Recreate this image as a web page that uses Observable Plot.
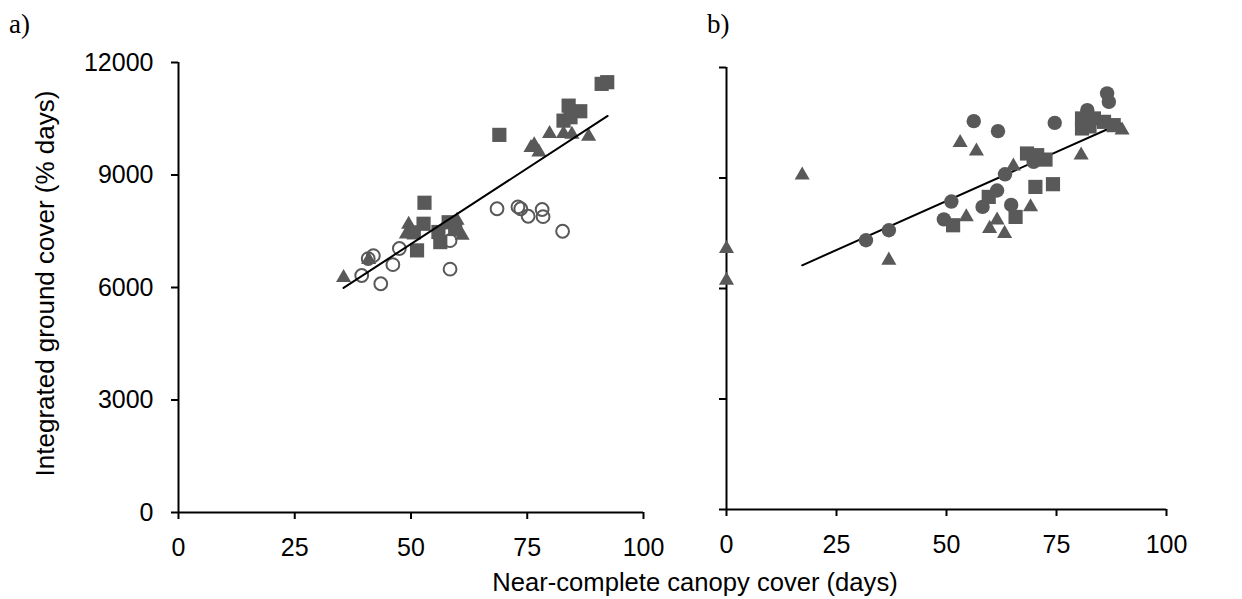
<!DOCTYPE html>
<html>
<head>
<meta charset="utf-8">
<script src="https://cdn.jsdelivr.net/npm/d3@7"></script>
<script src="https://cdn.jsdelivr.net/npm/@observablehq/plot@0.6"></script>
<style>
  html, body { margin: 0; padding: 0; background: #fff; }
  #wrap { position: relative; width: 1242px; height: 599px; overflow: hidden; font-family: 'Liberation Sans', Arial, sans-serif; }
  .panel { position: absolute; top: 0; }
  .tag { position: absolute; top: 11px; font-family: 'Liberation Serif', serif; font-size: 27px; line-height: 27px; color: #000; }
  #xtitle { position: absolute; top: 570px; left: 395px; width: 600px; text-align: center; font-size: 25.6px; line-height: 25px; color: #000; }
</style>
</head>
<body>
<div id="wrap">
  <div class="tag" style="left:9px">a)</div>
  <div class="tag" style="left:707px">b)</div>
  <div id="panelA" class="panel" style="left:0px"></div>
  <div id="panelB" class="panel" style="left:680px"></div>
  <div id="xtitle">Near-complete canopy cover (days)</div>
</div>
<script>
// ---------- tick values ----------
const xTicks = [0, 25, 50, 75, 100];
const yTicks = [0, 3000, 6000, 9000, 12000];
const yTitle = "Integrated ground cover (% days)";

// ---------- panel a ----------
const aCircleX = [39.4, 40.8, 41.9, 43.5, 46.1, 47.5, 58.4, 58.4, 68.5, 73.0, 73.6, 75.2, 78.2, 78.4, 82.6];
const aCircleY = [6320, 6770, 6850, 6100, 6610, 7040, 7250, 6490, 8100, 8150, 8100, 7900, 8080, 7890, 7500];

const aTriX = [35.5, 40.9, 49.5, 49.0, 59.9, 61.0, 75.8, 76.5, 77.5, 79.8, 82.8, 84.6, 88.2];
const aTriY = [6260, 6740, 7680, 7420, 7790, 7390, 9730, 9800, 9610, 10100, 10100, 10080, 10030];

const aSqX = [50.6, 51.3, 52.7, 52.9, 55.9, 56.3, 58.1, 59.5, 69.0, 82.8, 84.3, 83.9, 86.4, 91.0, 92.2];
const aSqY = [7470, 6990, 7700, 8260, 7480, 7210, 7740, 7560, 10070, 10450, 10540, 10850, 10700, 11430, 11475];

const aLineX = [35.5, 92.3];
const aLineY = [5990, 10575];

// ---------- panel b ----------
const bTriX = [0, 0, 17.2, 36.9, 53.1, 56.8, 54.5, 59.8, 61.5, 63.2, 65.2, 69.1, 80.6, 89.9];
const bTriY = [7080, 6220, 9076, 6766, 9960, 9728, 7943, 7628, 7853, 7491, 9321, 8215, 9620, 10299];

const bCircX = [31.7, 36.9, 49.4, 51.1, 56.2, 58.2, 61.5, 61.7, 63.3, 64.7, 69.8, 74.6, 82.0, 86.5, 86.9];
const bCircY = [7310, 7582, 7876, 8360, 10543, 8215, 8660, 10272, 9100, 8270, 9438, 10497, 10842, 11296, 11068];

const bSqX = [51.5, 59.6, 65.7, 68.3, 70.6, 72.5, 70.2, 74.2, 80.8, 80.8, 82.5, 83.5, 85.8, 88.0];
const bSqY = [7717, 8487, 7943, 9665, 9620, 9500, 8758, 8832, 10617, 10345, 10400, 10617, 10525, 10435];

const bLineX = [17.2, 89.5];
const bLineY = [6630, 10480];

// ---------- helpers ----------
const gray = "#595959";
const font = "'Liberation Sans', Arial, sans-serif";
const zip = (xs, ys) => xs.map((x, i) => ({x, y: ys[i]}));

function axes(showYLabels) {
  return [
    Plot.axisX({ticks: xTicks, tickSize: 7, tickPadding: 19, strokeWidth: 2, label: null, fontSize: 25, tickFormat: d => String(d)}),
    Plot.axisY({ticks: yTicks, tickSize: 7, tickPadding: 18, strokeWidth: 2, label: null, fontSize: 25,
      tickFormat: showYLabels ? (d => String(d)) : (() => "")}),
    Plot.ruleX([0], {strokeWidth: 2, stroke: "black"}),
    Plot.ruleY([0], {strokeWidth: 2, stroke: "black"})
  ];
}

const styleObj = {fontFamily: font, fontSize: "25px", color: "black", background: "transparent", overflow: "visible"};

const plotA = Plot.plot({
  width: 680, height: 599,
  marginLeft: 178, marginRight: 37, marginTop: 62, marginBottom: 87,
  style: styleObj,
  x: {domain: [0, 100]},
  y: {domain: [0, 12000]},
  marks: [
    ...axes(true),
    Plot.text([yTitle], {text: d => d, frameAnchor: "left", textAnchor: "middle", lineAnchor: "middle", dx: -133, dy: -4, rotate: -90, fontSize: 26, fill: "black"}),
    Plot.dot(zip(aTriX, aTriY), {x: "x", y: "y", symbol: "triangle", r: 5.6, fill: gray}),
    Plot.dot(zip(aSqX, aSqY), {x: "x", y: "y", symbol: "square", r: 8.0, fill: gray}),
    Plot.dot(zip(aCircleX, aCircleY), {x: "x", y: "y", r: 6.4, fill: "none", stroke: gray, strokeWidth: 2}),
    Plot.line(zip(aLineX, aLineY), {x: "x", y: "y", stroke: "black", strokeWidth: 2})
  ]
});
document.getElementById("panelA").appendChild(plotA);

const plotB = Plot.plot({
  width: 562, height: 599,
  marginLeft: 46, marginRight: 76, marginTop: 67, marginBottom: 90,
  style: styleObj,
  x: {domain: [0, 100]},
  y: {domain: [0, 12000]},
  marks: [
    ...axes(false),
    Plot.line(zip(bLineX, bLineY), {x: "x", y: "y", stroke: "black", strokeWidth: 2}),
    Plot.dot(zip(bTriX, bTriY), {x: "x", y: "y", symbol: "triangle", r: 5.6, fill: gray}),
    Plot.dot(zip(bCircX, bCircY), {x: "x", y: "y", r: 7.2, fill: gray}),
    Plot.dot(zip(bSqX, bSqY), {x: "x", y: "y", symbol: "square", r: 8.0, fill: gray})
  ]
});
document.getElementById("panelB").appendChild(plotB);
</script>
</body>
</html>
